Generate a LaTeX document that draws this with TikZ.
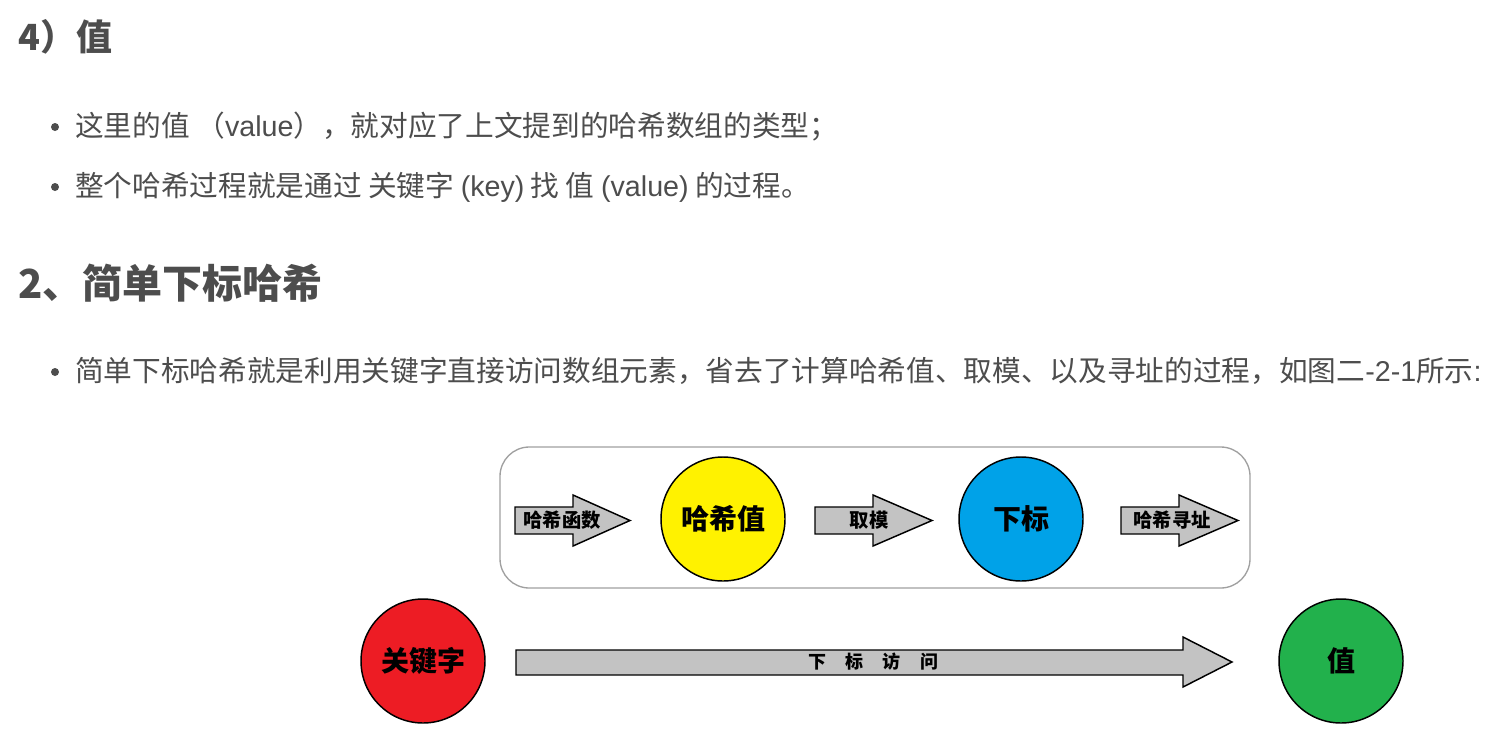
\documentclass[tikz,border=0pt]{standalone}
\usepackage{fontspec}
\setmainfont{Noto Sans CJK SC}
\newfontfamily\latinfont{Liberation Sans}
\usetikzlibrary{arrows.meta}
\definecolor{mText}{HTML}{4D4D4D}
\definecolor{mFrame}{HTML}{A0A0A0}
\definecolor{mArrow}{HTML}{C3C3C3}
\definecolor{mYellow}{HTML}{FFF200}
\definecolor{mBlue}{HTML}{00A2E8}
\definecolor{mRed}{HTML}{ED1C24}
\definecolor{mGreen}{HTML}{22B14C}
\newcommand{\lat}[1]{{\latinfont #1}}
\tikzset{
  headtext/.style={anchor=base west, inner sep=0, text=mText, font=\bfseries},
  bodytext/.style={anchor=base west, inner sep=0, text=mText, font=\fontsize{21.5pt}{26pt}\selectfont},
  bulletdot/.style={circle, fill=mText, inner sep=0, minimum size=6pt},
  ballnode/.style={circle, draw=black, line width=1.1pt, minimum size=93pt, inner sep=0,
    font=\fontsize{21pt}{24pt}\selectfont\bfseries},
  arrowbox/.style={draw=black, fill=mArrow, line width=1.1pt, line join=miter},
  arrowlbl/.style={inner sep=0, font=\fontsize{14.5pt}{16pt}\selectfont\bfseries}
}
\begin{document}
\begin{tikzpicture}[x=0.75pt, y=-0.75pt]
  \useasboundingbox[fill=white] (0,0) rectangle (1510,754);
  % text above the figure
  \node[headtext, font=\fontsize{27pt}{30pt}\selectfont\bfseries] (head4) at (18,50) {4）值};
  \node[bulletdot] (dot1) at (55,127) {};
  \node[bodytext] (bul1) at (75,136) {这里的值 （\lat{value}），就对应了上文提到的哈希数组的类型；};
  \node[bulletdot] (dot2) at (55,187) {};
  \node[bodytext] (bul2) at (75,196) {整个哈希过程就是通过 关键字 \lat{(key)} 找 值 \lat{(value)} 的过程。};
  \node[headtext, font=\fontsize{30pt}{34pt}\selectfont\bfseries] (head2) at (18,298) {2、简单下标哈希};
  \node[bulletdot] (dot3) at (55,372) {};
  \node[bodytext] (bul3) at (75,381) {简单下标哈希就是利用关键字直接访问数组元素，省去了计算哈希值、取模、以及寻址的过程，如图二\lat{-2-1}所示\lat{:}};
  % frame of the hash steps
  \draw[mFrame, line width=1pt, rounded corners=22pt] (500,447) rectangle (1250,588);
  % small arrows
  \foreach \name/\xa/\xb/\xc/\lx/\lbl in {fn/515/573/630/562/哈希函数, mod/815/873/932/869/取模, addr/1121/1179/1238/1172/哈希寻址} {
    \draw[arrowbox] (\xa,507) -- (\xb,507) -- (\xb,495) -- (\xc,520.5) -- (\xb,546) -- (\xb,534) -- (\xa,534) -- cycle;
    \node[arrowlbl] (\name) at (\lx,520) {\lbl};
  }
  % long arrow
  \draw[arrowbox] (516,650) -- (1183,650) -- (1183,637) -- (1232,662) -- (1183,687) -- (1183,675) -- (516,675) -- cycle;
  \node[arrowlbl, font=\fontsize{13.5pt}{15pt}\selectfont\bfseries] (direct) at (873,662)
    {下\hspace{14.5pt}标\hspace{14.5pt}访\hspace{14.5pt}问};
  % circles
  \foreach \name/\x/\y/\fc/\lbl in {hv/723/519/mYellow/哈希值, idx/1021/519/mBlue/下标, key/423/661/mRed/关键字, val/1341/661/mGreen/值}
    \node[ballnode, fill=\fc] (\name) at (\x,\y) {\lbl};
\end{tikzpicture}
\end{document}
